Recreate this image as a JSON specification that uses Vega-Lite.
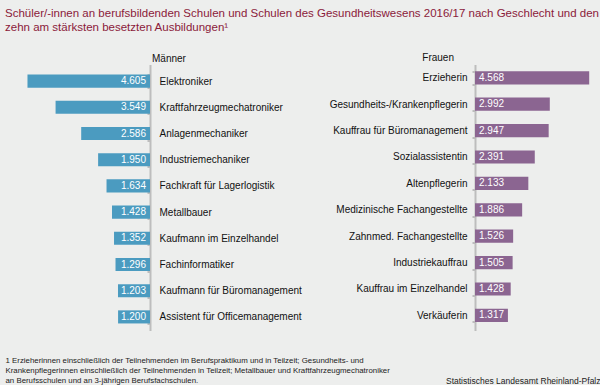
{
  "$schema": "https://vega.github.io/schema/vega-lite/v6.json",
  "background": "#edeeed",
  "padding": {"left": 5, "top": 7.5, "right": 0, "bottom": 0},
  "bounds": "flush",
  "spacing": 325,
  "title": {
    "text": ["Schüler/-innen an berufsbildenden Schulen und Schulen des Gesundheitswesens 2016/17 nach Geschlecht und den", "zehn am stärksten besetzten Ausbildungen¹"],
    "anchor": "start",
    "color": "#8b1a3a",
    "font": "Liberation Sans",
    "fontSize": 11.5,
    "fontWeight": "normal",
    "lineHeight": 14.5,
    "offset": 19.5
  },
  "config": {
    "view": {"stroke": null},
    "font": "Liberation Sans",
    "locale": {"number": {"decimal": ",", "thousands": ".", "grouping": [3], "currency": ["", " €"]}}
  },
  "datasets": {
    "men": [
      {"beruf": "Elektroniker", "anzahl": 4605},
      {"beruf": "Kraftfahrzeugmechatroniker", "anzahl": 3549},
      {"beruf": "Anlagenmechaniker", "anzahl": 2586},
      {"beruf": "Industriemechaniker", "anzahl": 1950},
      {"beruf": "Fachkraft für Lagerlogistik", "anzahl": 1634},
      {"beruf": "Metallbauer", "anzahl": 1428},
      {"beruf": "Kaufmann im Einzelhandel", "anzahl": 1352},
      {"beruf": "Fachinformatiker", "anzahl": 1296},
      {"beruf": "Kaufmann für Büromanagement", "anzahl": 1203},
      {"beruf": "Assistent für Officemanagement", "anzahl": 1200}
    ],
    "women": [
      {"beruf": "Erzieherin", "anzahl": 4568},
      {"beruf": "Gesundheits-/Krankenpflegerin", "anzahl": 2992},
      {"beruf": "Kauffrau für Büromanagement", "anzahl": 2947},
      {"beruf": "Sozialassistentin", "anzahl": 2391},
      {"beruf": "Altenpflegerin", "anzahl": 2133},
      {"beruf": "Medizinische Fachangestellte", "anzahl": 1886},
      {"beruf": "Zahnmed. Fachangestellte", "anzahl": 1526},
      {"beruf": "Industriekauffrau", "anzahl": 1505},
      {"beruf": "Kauffrau im Einzelhandel", "anzahl": 1428},
      {"beruf": "Verkäuferin", "anzahl": 1317}
    ]
  },
  "hconcat": [
    {
      "width": 145,
      "height": 266,
      "data": {"name": "men"},
      "title": {"text": "Männer", "frame": "group", "anchor": "end", "align": "left", "dx": 2, "dy": 4, "fontSize": 10, "fontWeight": "normal", "color": "#111111", "offset": 0},
      "encoding": {
        "y": {
          "field": "beruf", "type": "nominal", "sort": null,
          "scale": {"paddingInner": 0.5, "paddingOuter": 0.3264, "align": 0.588},
          "axis": {"orient": "right", "title": null, "tickBand": "extent", "domainColor": "#bdbdbd", "tickColor": "#bdbdbd", "domainWidth": 2, "tickWidth": 2, "tickSize": -3, "labelPadding": 12, "labelFontSize": 10, "labelColor": "#111111", "labelLimit": 300}
        }
      },
      "layer": [
        {
          "mark": {"type": "bar", "color": "#4b9bc0"},
          "encoding": {
            "x": {"field": "anzahl", "type": "quantitative", "scale": {"domain": [0, 5450], "reverse": true, "nice": false},
              "axis": {"title": ["1 Erzieherinnen einschließlich der Teilnehmenden im Berufspraktikum und in Teilzeit; Gesundheits- und", "Krankenpflegerinnen einschließlich der Teilnehmenden in Teilzeit; Metallbauer und Kraftfahrzeugmechatroniker", "an Berufsschulen und an 3-jährigen Berufsfachschulen."],
                "labels": false, "ticks": false, "domain": false, "grid": false,
                "titleAnchor": "end", "titleAlign": "left", "titleFontSize": 7.85, "titleFontWeight": "normal", "titleColor": "#222222", "titleLineHeight": 10, "titlePadding": 26}}
          }
        },
        {
          "mark": {"type": "text", "align": "right", "dx": -4, "color": "white", "fontSize": 10},
          "encoding": {
            "x": {"datum": 0, "type": "quantitative"},
            "text": {"field": "anzahl", "type": "quantitative", "format": ",d"}
          }
        }
      ]
    },
    {
      "width": 125,
      "height": 266,
      "data": {"name": "women"},
      "title": {"text": "Frauen", "frame": "group", "anchor": "start", "align": "right", "dx": -21, "dy": 3.5, "fontSize": 10, "fontWeight": "normal", "color": "#111111", "offset": 0},
      "encoding": {
        "y": {
          "field": "beruf", "type": "nominal", "sort": null,
          "scale": {"paddingInner": 0.5, "paddingOuter": 0.288, "align": 0.44},
          "axis": {"orient": "left", "title": null, "tickBand": "extent", "domainColor": "#bdbdbd", "tickColor": "#bdbdbd", "domainWidth": 2, "tickWidth": 2, "tickSize": 3, "labelPadding": 5, "labelFontSize": 10, "labelColor": "#111111", "labelLimit": 300}
        }
      },
      "layer": [
        {
          "mark": {"type": "bar", "color": "#8b6591"},
          "encoding": {
            "x": {"field": "anzahl", "type": "quantitative", "scale": {"domain": [0, 5000], "nice": false},
              "axis": {"title": "Statistisches Landesamt Rheinland-Pfalz", "labels": false, "ticks": false, "domain": false, "grid": false,
                "titleAnchor": "end", "titleAlign": "right", "titleFontSize": 8.5, "titleFontWeight": "normal", "titleColor": "#222222", "titlePadding": 45.5}}
          }
        },
        {
          "mark": {"type": "text", "align": "left", "dx": 4, "color": "white", "fontSize": 10},
          "encoding": {
            "x": {"datum": 0, "type": "quantitative"},
            "text": {"field": "anzahl", "type": "quantitative", "format": ",d"}
          }
        }
      ]
    }
  ]
}
